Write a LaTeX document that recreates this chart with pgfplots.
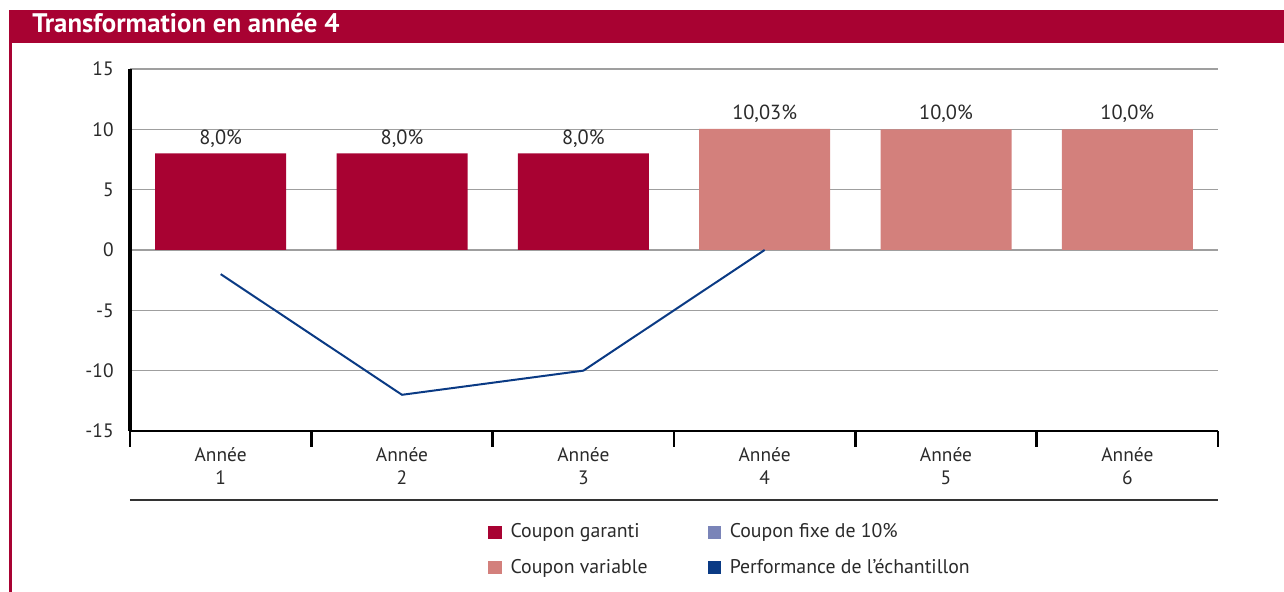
\documentclass[border=0pt]{standalone}
\usepackage{pgfplots}
\pgfplotsset{compat=1.18}
\usepackage{fontspec}
\setmainfont{PT Sans}
\definecolor{crimson}{HTML}{A80232}
\definecolor{rose}{HTML}{D3807C}
\definecolor{lav}{HTML}{7A84B8}
\definecolor{navy}{HTML}{0A3A84}
\definecolor{txt}{HTML}{2A2A2A}
\begin{document}
\begin{tikzpicture}
\begin{axis}[
  scale only axis, width=544pt, height=181pt,
  xmin=0.5, xmax=6.5, ymin=-15, ymax=15,
  axis x line*=bottom, axis y line*=left,
  x axis line style={line width=1pt, black},
  y axis line style={line width=1.6pt, black},
  ytick={-15,-10,...,15},
  yticklabels={-15,-10,-5,0,5,10,15},
  xtick={1,...,6},
  xticklabels={Année\\1,Année\\2,Année\\3,Année\\4,Année\\5,Année\\6},
  minor xtick={0.5,1.5,...,6.5},
  major tick length=0pt,
  minor tick length=8pt,
  tick align=outside,
  minor tick style={line width=1.4pt, black},
  ymajorgrids,
  major grid style={gray!75, line width=0.6pt},
  ticklabel style={font=\fontsize{9.7}{11.5}\selectfont, text=txt},
  yticklabel style={inner sep=0pt, xshift=-8pt},
  xticklabel style={align=center, inner sep=0pt, yshift=-8pt},
  clip=false,
  legend columns=2,
  legend style={at={(rel axis cs:0.329,-0.244)}, anchor=north west, draw=none, fill=none, inner sep=0pt,
    font=\fontsize{9.9}{10.5}\selectfont, text=txt,
    /tikz/every even column/.append style={column sep=0pt},
    row sep=5pt},
  legend cell align=left,
  legend image code/.code={\fill[#1] (0pt,-3.4pt) rectangle (6.6pt,3.2pt);},
  point meta=explicit symbolic,
  nodes near coords={\pgfplotspointmeta\%},
  nodes near coords style={font=\fontsize{10.2}{11}\selectfont, text=txt, anchor=south, inner sep=0pt, yshift=3pt},
]
\addplot[ybar, bar width=65.5pt, bar shift=0pt, fill=crimson, draw=none, forget plot]
  coordinates {(1,8) [8,0] (2,8) [8,0] (3,8) [8,0]};
\addplot[ybar, bar width=65.5pt, bar shift=0pt, fill=rose, draw=none, forget plot]
  coordinates {(4,10.03) [10,03] (5,10) [10,0] (6,10) [10,0]};
\addplot[navy, line width=1pt, no marks, forget plot, nodes near coords={}]
  coordinates {(1,-2) (2,-12) (3,-10) (4,0)};
\addlegendimage{fill=crimson, draw=none}
\addlegendentry{\makebox[99pt][l]{\hspace{2.5pt}Coupon garanti}}
\addlegendimage{fill=lav, draw=none}
\addlegendentry{\hspace{2.5pt}Coupon fixe de 10\%}
\addlegendimage{fill=rose, draw=none}
\addlegendentry{\makebox[99pt][l]{\hspace{2.5pt}Coupon variable}}
\addlegendimage{fill=navy, draw=none}
\addlegendentry{\hspace{2.5pt}Performance de l’échantillon}
\draw[black!80, line width=1pt] ([yshift=-34.5pt]rel axis cs:0,0) -- ([yshift=-34.5pt]rel axis cs:1,0);
\coordinate (O) at (rel axis cs:0,0);
\end{axis}
\coordinate (B) at ([shift={(-65pt,-80.5pt)}]O);
\pgfresetboundingbox
\path[use as bounding box] (B) rectangle ([shift={(642pt,296pt)}]B);
\fill[crimson] ([shift={(4.5pt,274.5pt)}]B) rectangle ([shift={(642pt,291pt)}]B);
\fill[crimson] (B) ++(4.5pt,0) rectangle ([shift={(6pt,274.5pt)}]B);
\node[anchor=base west, text=white, inner sep=0pt, font=\bfseries\fontsize{13.4}{15}\selectfont] at ([shift={(16pt,279.5pt)}]B) {Transformation en année 4};
\end{tikzpicture}
\end{document}
